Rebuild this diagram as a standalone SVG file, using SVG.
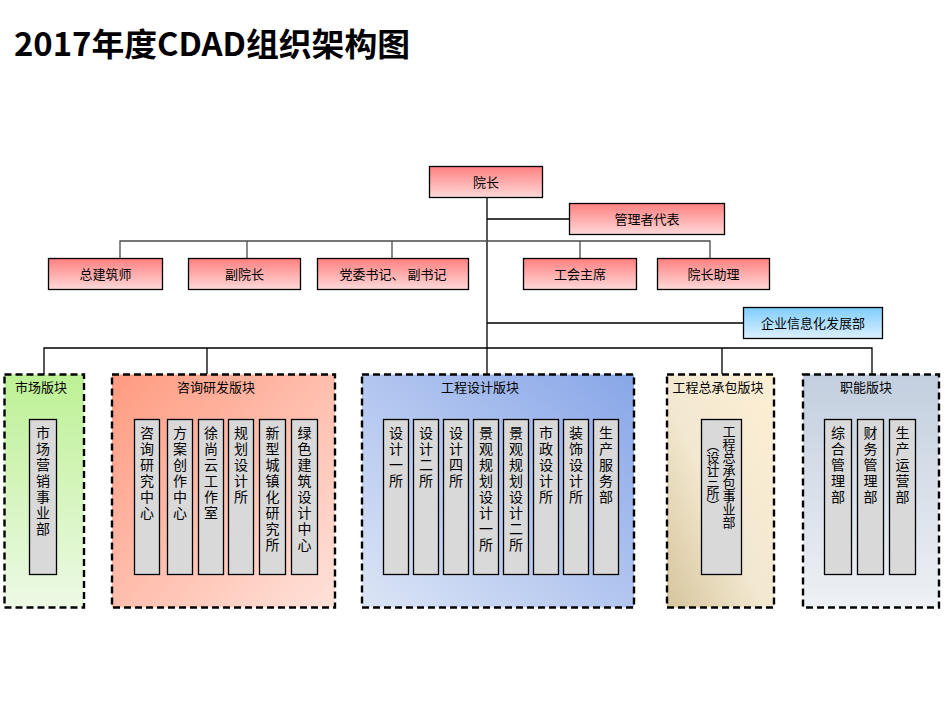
<svg xmlns="http://www.w3.org/2000/svg" width="951" height="717" viewBox="0 0 951 717">
<defs>
<linearGradient id="gRed" x1="0" y1="0" x2="0" y2="1"><stop offset="0" stop-color="#FF8080"/><stop offset="1" stop-color="#FFD9D9"/></linearGradient>
<linearGradient id="gBlue" x1="0" y1="0" x2="0" y2="1"><stop offset="0" stop-color="#7FCDFF"/><stop offset="1" stop-color="#DCF0FF"/></linearGradient>
<linearGradient id="gGreen" x1="0" y1="0" x2="0" y2="1"><stop offset="0" stop-color="#BDF195"/><stop offset="1" stop-color="#EDF9E5"/></linearGradient>
<linearGradient id="gSalmon" x1="0" y1="0" x2="1" y2="1"><stop offset="0" stop-color="#FF9A80"/><stop offset="1" stop-color="#FFE2DA"/></linearGradient>
<linearGradient id="gEng" x1="1" y1="0" x2="0" y2="1"><stop offset="0" stop-color="#88A6E8"/><stop offset="1" stop-color="#DCE5F6"/></linearGradient>
<linearGradient id="gTan" x1="0" y1="1" x2="1" y2="0"><stop offset="0" stop-color="#D6C59C"/><stop offset="0.45" stop-color="#F2E8D0"/><stop offset="1" stop-color="#FDEFD4"/></linearGradient>
<linearGradient id="gGray" x1="0" y1="0" x2="0" y2="1"><stop offset="0" stop-color="#C3CFDF"/><stop offset="1" stop-color="#EEF1F5"/></linearGradient>
</defs>
<style>
text{font-family:"Noto Sans CJK SC","Liberation Sans",sans-serif;fill:#000}
.t13{font-size:13px;text-anchor:middle}
.v{font-size:14px;writing-mode:vertical-rl;letter-spacing:2px}
.v13{font-size:13px;writing-mode:vertical-rl}
.top{fill:url(#gRed);stroke:#000;stroke-width:1.3}
.child{fill:#D9D9D9;stroke:#000;stroke-width:1.3}
.blk{stroke:#000;stroke-width:2.4;stroke-dasharray:7 4}
.ln{fill:none;stroke:#000;stroke-width:1.3}
.lg{fill:none;stroke:#4a4a4a;stroke-width:1.3}
</style>
<rect width="951" height="717" fill="#fff"/>
<text x="14" y="56" style="font-size:32px;font-weight:bold" textLength="396" lengthAdjust="spacingAndGlyphs">2017年度CDAD组织架构图</text>

<g id="connectors">
<path class="ln" d="M487 197V374M487 219H569M487 323H743"/>
<path class="lg" d="M120 259V241H710V259M247 241V259M392 241V259M580 241V259"/>
<path class="ln" d="M44 374V348H872V374M207 348V374M722 348V374"/>
<path class="ln" d="M43 394V419"/>
<path class="ln" d="M211 394V405M144.5 419V405H314V419M177.5 405V419M240.5 405V419M272.5 405V419"/>
<path class="ln" d="M487 394V405M395.5 419V405H605.5V419M425.5 405V419M455.5 405V419M485.5 405V419M516 405V419M545.5 405V419M575.5 405V419"/>
<path class="ln" d="M721 394V419"/>
<path class="ln" d="M872 394V405M842 419V405H903V419"/>
</g>

<g id="n-yuanzhang"><rect class="top" x="429.5" y="166.5" width="113" height="31"/><text class="t13" x="486" y="186.5">院长</text></g>
<g id="n-guanli"><rect class="top" x="569.5" y="203.5" width="155" height="31"/><text class="t13" x="647" y="223.5">管理者代表</text></g>
<g id="n-zongjian"><rect class="top" x="48.5" y="258.5" width="114" height="31"/><text class="t13" x="105.5" y="278.5">总建筑师</text></g>
<g id="n-fuyuanzhang"><rect class="top" x="188.5" y="258.5" width="112" height="31"/><text class="t13" x="244.5" y="278.5">副院长</text></g>
<g id="n-dangwei"><rect class="top" x="317.5" y="258.5" width="151" height="31"/><text class="t13" x="393" y="278.5">党委书记、 副书记</text></g>
<g id="n-gonghui"><rect class="top" x="523.5" y="258.5" width="113" height="31"/><text class="t13" x="580" y="278.5">工会主席</text></g>
<g id="n-zhuli"><rect class="top" x="657.5" y="258.5" width="112" height="31"/><text class="t13" x="713.5" y="278.5">院长助理</text></g>
<g id="n-qiye"><rect x="743.5" y="307.5" width="139" height="31" fill="url(#gBlue)" stroke="#000" stroke-width="1.3"/><text class="t13" x="813" y="327.5">企业信息化发展部</text></g>

<g id="b-shichang"><rect class="blk" x="4.5" y="374.5" width="79.5" height="233" fill="url(#gGreen)"/><text x="15" y="392" style="font-size:13px">市场版块</text></g>
<g id="n-shichang"><rect class="child" x="29.5" y="419.5" width="27" height="155"/><text class="v" x="43" y="426">市场营销事业部</text></g>

<g id="b-zixun"><rect class="blk" x="112" y="374.5" width="223" height="233" fill="url(#gSalmon)"/><text class="t13" x="216" y="392">咨询研发版块</text></g>
<g id="n-zx1"><rect class="child" x="134.5" y="419.5" width="25" height="155"/><text class="v" x="147" y="426">咨询研究中心</text></g>
<g id="n-zx2"><rect class="child" x="167.5" y="419.5" width="25" height="155"/><text class="v" x="180" y="426">方案创作中心</text></g>
<g id="n-zx3"><rect class="child" x="198.5" y="419.5" width="25" height="155"/><text class="v" x="211" y="426">徐尚云工作室</text></g>
<g id="n-zx4"><rect class="child" x="228.5" y="419.5" width="25" height="155"/><text class="v" x="241" y="426">规划设计所</text></g>
<g id="n-zx5"><rect class="child" x="259.5" y="419.5" width="26" height="155"/><text class="v" x="272.5" y="426">新型城镇化研究所</text></g>
<g id="n-zx6"><rect class="child" x="291.5" y="419.5" width="26" height="155"/><text class="v" x="304.5" y="426">绿色建筑设计中心</text></g>

<g id="b-gongcheng"><rect class="blk" x="362" y="374.5" width="272" height="233" fill="url(#gEng)"/><text class="t13" x="480" y="392">工程设计版块</text></g>
<g id="n-gc1"><rect class="child" x="383.5" y="419.5" width="25" height="155"/><text class="v" x="396" y="426">设计一所</text></g>
<g id="n-gc2"><rect class="child" x="413.5" y="419.5" width="25" height="155"/><text class="v" x="426" y="426">设计二所</text></g>
<g id="n-gc3"><rect class="child" x="443.5" y="419.5" width="25" height="155"/><text class="v" x="456" y="426">设计四所</text></g>
<g id="n-gc4"><rect class="child" x="473.5" y="419.5" width="25" height="155"/><text class="v" x="486" y="426">景观规划设计一所</text></g>
<g id="n-gc5"><rect class="child" x="503.5" y="419.5" width="25" height="155"/><text class="v" x="516" y="426">景观规划设计二所</text></g>
<g id="n-gc6"><rect class="child" x="533.5" y="419.5" width="25" height="155"/><text class="v" x="546" y="426">市政设计所</text></g>
<g id="n-gc7"><rect class="child" x="563.5" y="419.5" width="25" height="155"/><text class="v" x="576" y="426">装饰设计所</text></g>
<g id="n-gc8"><rect class="child" x="593.5" y="419.5" width="25" height="155"/><text class="v" x="606" y="426">生产服务部</text></g>

<g id="b-zongchengbao"><rect class="blk" x="667" y="374.5" width="107" height="233" fill="url(#gTan)"/><text class="t13" x="718" y="392">工程总承包版块</text></g>
<g id="n-zcb"><rect class="child" x="701.5" y="419.5" width="40" height="155"/>
<text class="v13" x="729" y="424.5">工程总承包事业部</text>
<text class="v13" x="713" y="438.5" style="letter-spacing:-1px">（设计三所）</text>
</g>

<g id="b-zhineng"><rect class="blk" x="803" y="374.5" width="136" height="233" fill="url(#gGray)"/><text class="t13" x="866" y="392">职能版块</text></g>
<g id="n-zn1"><rect class="child" x="824.5" y="419.5" width="27" height="155"/><text class="v" x="838" y="426">综合管理部</text></g>
<g id="n-zn2"><rect class="child" x="857.5" y="419.5" width="26" height="155"/><text class="v" x="870.5" y="426">财务管理部</text></g>
<g id="n-zn3"><rect class="child" x="889.5" y="419.5" width="26" height="155"/><text class="v" x="902.5" y="426">生产运营部</text></g>
</svg>
